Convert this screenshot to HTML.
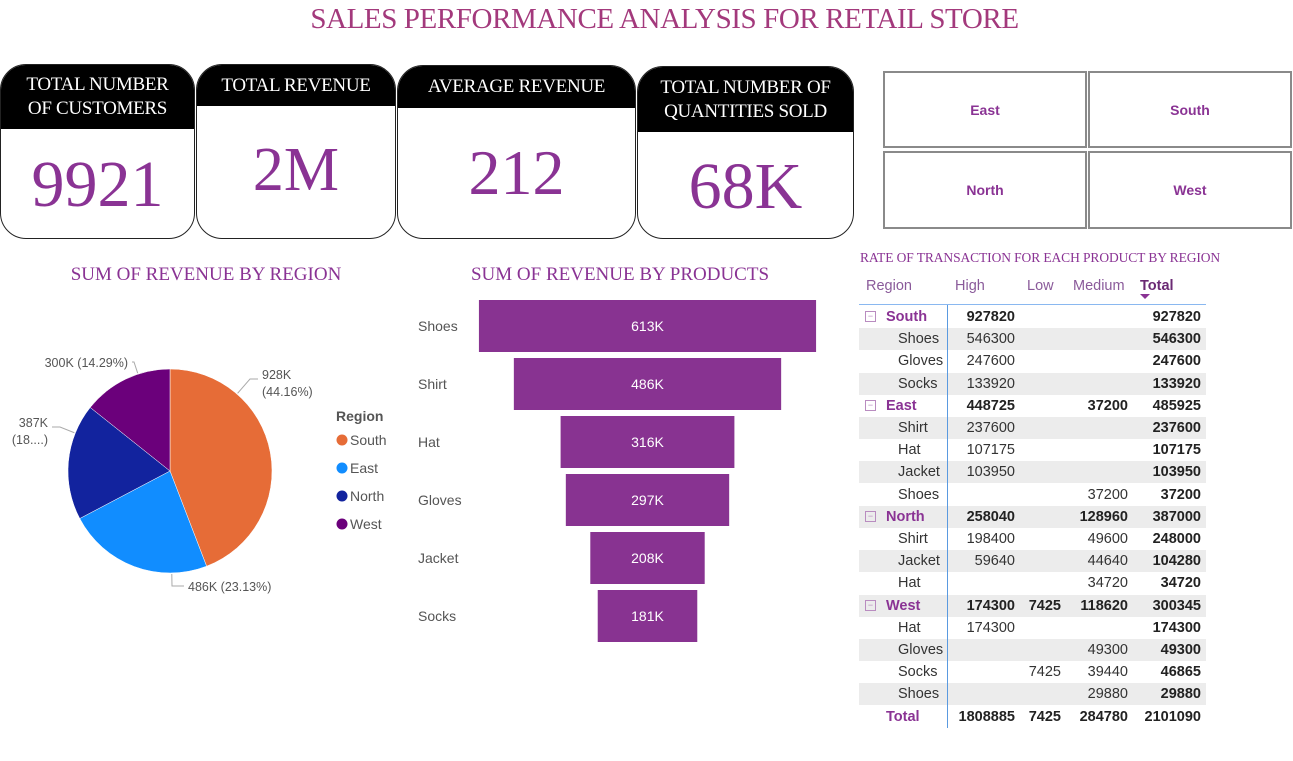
<!DOCTYPE html>
<html><head><meta charset="utf-8">
<style>
body{margin:0;width:1293px;height:761px;background:#fff;position:relative;overflow:hidden;font-family:"Liberation Sans",sans-serif}
.abs{position:absolute}
.title{font-family:"Liberation Serif",serif;color:#a3397c;font-size:29px;left:18px;width:1293px;text-align:center;top:3px;letter-spacing:-0.4px}
.card{position:absolute;border:1.5px solid #222;border-radius:26px;overflow:hidden;background:#fff;box-sizing:border-box}
.card .hd{background:#000;color:#fff;font-family:"Liberation Serif",serif;font-size:19px;text-align:center;line-height:24px;display:flex;align-items:center;justify-content:center;letter-spacing:-0.3px}
.card .val{font-family:"Liberation Serif",serif;color:#8a3394;text-align:center;position:absolute;left:0;right:0}
.slicer{position:absolute;border:2px solid #8a8a8a;box-sizing:border-box;display:flex;align-items:center;justify-content:center;color:#8a3394;font-weight:bold;font-size:14px}
.sub{font-family:"Liberation Serif",serif;color:#8a3394;font-size:19px;text-align:center}
.cell{position:absolute;font-size:14.5px;color:#333;white-space:nowrap;line-height:22px}
</style></head><body>
<div class="abs title">SALES PERFORMANCE ANALYSIS FOR RETAIL STORE</div>

<div class="card" style="left:0;top:64px;width:195px;height:175px">
 <div class="hd" style="height:64px">TOTAL NUMBER<br>OF CUSTOMERS</div>
 <div class="val" style="top:82px;font-size:66px">9921</div></div>
<div class="card" style="left:196px;top:64px;width:200px;height:175px">
 <div class="hd" style="height:41px">TOTAL REVENUE</div>
 <div class="val" style="top:70px;font-size:62px">2M</div></div>
<div class="card" style="left:397px;top:65px;width:239px;height:174px">
 <div class="hd" style="height:42px">AVERAGE REVENUE</div>
 <div class="val" style="top:70px;font-size:64px">212</div></div>
<div class="card" style="left:637px;top:66px;width:217px;height:173px">
 <div class="hd" style="height:65px">TOTAL NUMBER OF<br>QUANTITIES SOLD</div>
 <div class="val" style="top:82px;font-size:66px">68K</div></div>

<div class="slicer" style="left:883px;top:71px;width:204px;height:77px">East</div>
<div class="slicer" style="left:1088px;top:71px;width:204px;height:77px">South</div>
<div class="slicer" style="left:883px;top:151px;width:204px;height:78px">North</div>
<div class="slicer" style="left:1088px;top:151px;width:204px;height:78px">West</div>

<div class="abs sub" style="left:0;width:412px;top:264px">SUM OF REVENUE BY REGION</div>
<div class="abs sub" style="left:420px;width:400px;top:264px">SUM OF REVENUE BY PRODUCTS</div>
<div class="abs" style="left:860px;top:250px;font-family:'Liberation Serif',serif;color:#8a3394;font-size:13.5px;letter-spacing:-0.1px">RATE OF TRANSACTION FOR EACH PRODUCT BY REGION</div>

<svg class="abs" style="left:0;top:0" width="1293" height="761" id="charts">
<g id="pie"></g><g id="funnel"></g>
</svg>
<div id="table" class="abs" style="left:0;top:0;width:1293px;height:761px"></div>

<script>
const regions=["South","East","North","West"];
const regionValues=[927.82,485.925,387.0,300.345];
const regionLabels=["928K","486K","387K","300K"];
const regionColors=["#e66c37","#118dff","#12239e","#6b007b"];
const products=["Shoes","Shirt","Hat","Gloves","Jacket","Socks"];
const productValues=[613,486,316,297,208,181];
const productLabels=["613K","486K","316K","297K","208K","181K"];

const NS="http://www.w3.org/2000/svg";
function mk(tag,attrs,parent){const e=document.createElementNS(NS,tag);for(const k in attrs)e.setAttribute(k,attrs[k]);parent.appendChild(e);return e;}
function txt(s,attrs,parent){const e=mk("text",attrs,parent);e.textContent=s;return e;}

// pie
const pie=document.getElementById("pie");
const cx=170,cy=471,r=102;
const total=regionValues.reduce((a,b)=>a+b,0);
let a0=-Math.PI/2;
// label layout: [elbowX, elbowY, textX, anchor, two-line]
const labelPos=[[250,379,262,"start",1],[172,586,188,"start",0],[60,427,48,"end",1],[134,362,128,"end",0]];
regionValues.forEach((v,i)=>{
  const a1=a0+v/total*2*Math.PI;
  const large=(a1-a0)>Math.PI?1:0;
  const p=mk("path",{d:`M${cx},${cy} L${cx+r*Math.cos(a0)},${cy+r*Math.sin(a0)} A${r},${r} 0 ${large} 1 ${cx+r*Math.cos(a1)},${cy+r*Math.sin(a1)} Z`,fill:regionColors[i],stroke:"#fff","stroke-width":"0.5"},pie);
  
  
  const pct=(v/total*100).toFixed(2)+"%";
  const lp=labelPos[i];
  const dx=lp[0]-cx,dy=lp[1]-cy,d=Math.hypot(dx,dy);
  const ex=cx+dx/d*(r+1),ey=cy+dy/d*(r+1);
  const endX=lp[3]=="start"?lp[2]-4:lp[2]+4;
  const ln=mk("polyline",{points:`${ex},${ey} ${lp[0]},${lp[1]} ${endX},${lp[1]}`,fill:"none",stroke:"#aaa"},pie);
  
  
  const ty=lp[1]+(lp[4]?0:5);
  let t;
  if(lp[4]){
    t=txt(regionLabels[i],{x:lp[2],y:ty,"font-size":12.5,fill:"#555","text-anchor":lp[3]},pie);
    const t2=txt(i==2?"(18....)":"("+pct+")",{x:lp[2],y:ty+17,"font-size":12.5,fill:"#555","text-anchor":lp[3]},pie);
    
    
  } else t=txt(regionLabels[i]+" ("+pct+")",{x:lp[2],y:ty,"font-size":12.5,fill:"#555","text-anchor":lp[3]},pie);
  
  
  a0=a1;
});
const lt=txt("Region",{x:336,y:421,"font-size":14,"font-weight":"bold",fill:"#555"},pie);


regions.forEach((g,i)=>{
  const y=440+i*28;
  const c=mk("circle",{cx:342,cy:y,r:5.5,fill:regionColors[i]},pie);
  
  
  const t=txt(g,{x:350,y:y+5,"font-size":14,fill:"#555"},pie);
  
  
});

// funnel
const fn=document.getElementById("funnel");
const fcx=647.5,scale=0.55,top0=300,step=58,bh=52;
productValues.forEach((v,i)=>{
  const w=v*scale,y=top0+i*step;
  const b=mk("rect",{x:fcx-w/2,y:y,width:w,height:bh,fill:"#883391"},fn);
  
  
  const vl=txt(productLabels[i],{x:fcx,y:y+bh/2+5,"font-size":14,fill:"#fff","text-anchor":"middle"},fn);
  
  
  const cl=txt(products[i],{x:418,y:y+bh/2+5,"font-size":14,fill:"#555"},fn);
  
  
});

// table
const rowLabels=["South","Shoes","Gloves","Socks","East","Shirt","Hat","Jacket","Shoes","North","Shirt","Jacket","Hat","West","Hat","Gloves","Socks","Shoes","Total"];
const rowIsGroup=[1,0,0,0,1,0,0,0,0,1,0,0,0,1,0,0,0,0,2];
const highVals=["927820","546300","247600","133920","448725","237600","107175","103950","","258040","198400","59640","","174300","174300","","","","1808885"];
const lowVals=["","","","","","","","","","","","","","7425","","","7425","","7425"];
const medVals=["","","","","37200","","","","37200","128960","49600","44640","34720","118620","","49300","39440","29880","284780"];
const totVals=["927820","546300","247600","133920","485925","237600","107175","103950","37200","387000","248000","104280","34720","300345","174300","49300","46865","29880","2101090"];
const tb=document.getElementById("table");
function div(style,text,parent){const d=document.createElement("div");d.className="cell";d.style.cssText=style;if(text!=null)d.textContent=text;parent.appendChild(d);return d;}
const heads=[["Region",866],["High",955],["Low",1027],["Medium",1073],["Total",1140]];
heads.forEach((h,i)=>{const d=div(`left:${h[1]}px;top:275px;color:${i==4?'#6b2a74;font-weight:bold':'#8a5a9a'}`,h[0],tb);
  
  });
const arrow=div("left:1140px;top:294px;width:0;height:0;border-left:5px solid transparent;border-right:5px solid transparent;border-top:5px solid #8a3394;line-height:0",null,tb);


const hl=div("left:859px;top:304px;width:347px;height:1px;background:#8ab8f0",null,tb);


rowLabels.forEach((lab,i)=>{
  const yc=317+i*22.2,top=yc-11;
  if(i%2==1){const bg=div(`left:859px;top:${top}px;width:347px;height:22px;background:#ececec`,null,tb);
    
    }
  const g=rowIsGroup[i];
  if(g==1){const ic=div(`left:865px;top:${top+5}px;width:9px;height:9px;border:1px solid #b98cc0;line-height:9px;font-size:9px;text-align:center;color:#b98cc0`,"−",tb);
    
    }
  const ls=g?`left:886px;top:${top}px;font-weight:bold;color:#8a3394`:`left:898px;top:${top}px`;
  const l=div(ls,lab,tb);
  
  
  const bold=g?"font-weight:bold;color:#222;":"";
  [[highVals,1015],[lowVals,1061],[medVals,1128],[totVals,1201]].forEach((c,j)=>{
    if(!c[0][i])return;
    const d=div(`left:${c[1]-90}px;width:90px;text-align:right;top:${top}px;${bold}${j==3?'font-weight:bold;color:#222;':''}`,c[0][i],tb);
    
    
  });
});
const vl=div("left:947px;top:305px;width:1px;height:423px;background:#5a9ae0",null,tb);


</script>
</body></html>
